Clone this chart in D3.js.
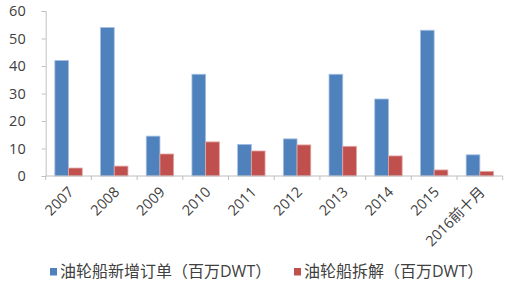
<!DOCTYPE html>
<html>
<head>
<meta charset="utf-8">
<script src="https://d3js.org/d3.v7.min.js"></script>
<style>
  body { margin: 0; background: #fff; }
  svg text { font-family: "Open Sans", "Noto Sans CJK SC", sans-serif; fill: #404040; }
</style>
</head>
<body>
<svg width="511" height="283"></svg>
<script>
// categories and series (million DWT)
const years = ["2007", "2008", "2009", "2010", "2011", "2012", "2013", "2014", "2015", "2016前十月"];
const newOrders = [42, 54, 14.5, 37, 11.5, 13.5, 37, 28, 53, 7.7];
const demolition = [2.9, 3.6, 8.0, 12.4, 9.1, 11.3, 10.8, 7.3, 2.2, 1.7];
const yTicks = [0, 10, 20, 30, 40, 50, 60];
const seriesNames = ["油轮船新增订单（百万DWT）", "油轮船拆解（百万DWT）"];
const colors = ["#4f81bd", "#c0504d"];

const svg = d3.select("svg");
const plotL = 45.7, plotR = 502.7, plotT = 11, plotB = 176;

var x = d3.scaleBand().domain(years).range([plotL, plotR]).paddingInner(0.4).paddingOuter(0.2);
var xs = d3.scaleBand().domain([0, 1]).range([0, x.bandwidth()]);
var y = d3.scaleLinear().domain([0, 60]).range([plotB, plotT]);

// y axis
var ya = svg.append("g").attr("transform", "translate(" + plotL + ",0)")
    .call(d3.axisLeft(y).tickValues(yTicks).tickSize(4).tickPadding(16));
ya.selectAll("text").attr("font-size", "14.5px").style("fill", "#404040");
ya.selectAll("line, path").attr("stroke", "#bfbfbf");

// bars
var groups = svg.append("g").selectAll("g")
    .data(years).enter().append("g")
    .attr("transform", function(d) { return "translate(" + x(d) + ",0)"; });
[newOrders, demolition].forEach(function(vals, s) {
  groups.append("rect")
    .attr("x", xs(s))
    .attr("width", xs.bandwidth())
    .attr("y", function(d, i) { return y(vals[i]); })
    .attr("height", function(d, i) { return plotB - y(vals[i]); })
    .attr("fill", colors[s])
    .attr("stroke", s == 0 ? "#a7c0e3" : "#e3a7a5")
    .attr("stroke-width", 0.8);
});

// x axis: ticks on band boundaries
var xa = svg.append("g");
xa.append("line").attr("x1", plotL).attr("x2", plotR).attr("y1", plotB).attr("y2", plotB)
  .attr("stroke", "#bfbfbf");
xa.selectAll("line.tk").data(d3.range(years.length + 1)).enter().append("line")
  .attr("class", "tk")
  .attr("x1", function(i) { return plotL + i * x.step(); })
  .attr("x2", function(i) { return plotL + i * x.step(); })
  .attr("y1", plotB).attr("y2", plotB + 4)
  .attr("stroke", "#bfbfbf");
xa.selectAll("text").data(years).enter().append("text")
  .attr("transform", function(d) {
    return "translate(" + (x(d) + x.bandwidth() / 2 + 6) + "," + (plotB + 17) + ") rotate(-45)";
  })
  .attr("text-anchor", "end")
  .attr("font-size", "14.5px")
  .text(function(d) { return d; });

// legend
var legX = [50, 294];
seriesNames.forEach(function(n, i) {
  svg.append("rect").attr("x", legX[i]).attr("y", 268).attr("width", 7).attr("height", 7.5)
    .attr("fill", colors[i]);
  svg.append("text").attr("x", legX[i] + 10).attr("y", 277)
    .attr("font-size", "16px")
    .text(n);
});
</script>
</body>
</html>
